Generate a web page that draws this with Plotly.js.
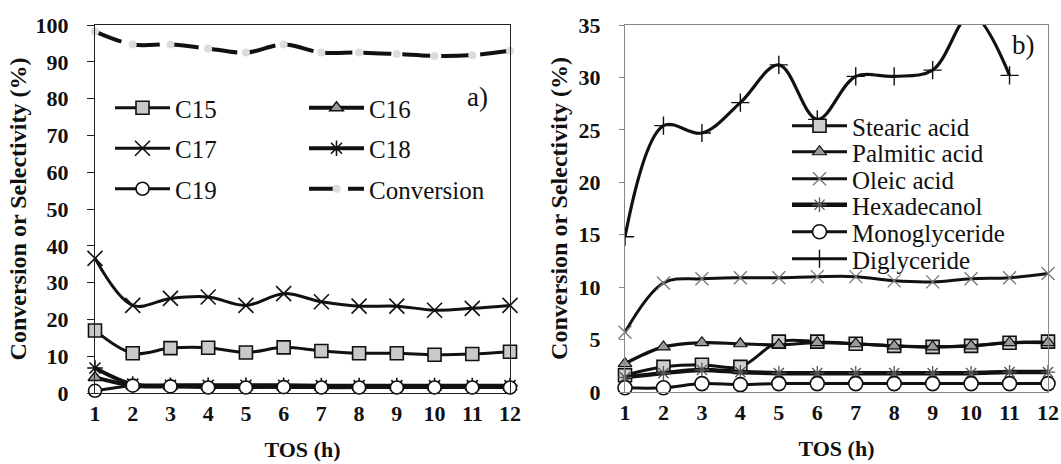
<!DOCTYPE html>
<html>
<head>
<meta charset="utf-8">
<script src="https://cdn.plot.ly/plotly-3.0.1.min.js"></script>
<style>html,body{margin:0;padding:0;background:#fff;overflow:hidden;}#chart{width:1061px;height:464px;}</style>
</head>
<body>
<div id="chart"></div>
<script>
// ---------- data ----------
const tos = [1, 2, 3, 4, 5, 6, 7, 8, 9, 10, 11, 12];
const tickLabelsX = ['1','2','3','4','5','6','7','8','9','10','11','12'];

// panel a)
const c15 = [17.0, 10.8, 12.2, 12.3, 11.0, 12.4, 11.4, 10.8, 10.8, 10.4, 10.6, 11.2];
const c16 = [4.2, 2.0, 1.8, 1.7, 1.7, 1.7, 1.6, 1.6, 1.6, 1.6, 1.6, 1.6];
const c17 = [36.6, 23.8, 25.7, 26.1, 23.8, 27.0, 24.8, 23.6, 23.6, 22.5, 23.0, 23.8];
const c18 = [6.8, 2.4, 2.1, 2.1, 2.1, 2.1, 2.0, 2.0, 2.0, 2.0, 2.0, 2.0];
const c19 = [0.6, 2.0, 1.8, 1.5, 1.5, 1.6, 1.5, 1.5, 1.5, 1.5, 1.5, 1.5];
const conversion = [98.2, 94.7, 94.7, 93.6, 92.5, 94.7, 92.5, 92.5, 92.1, 91.6, 91.8, 93.0];

// panel b)
const stearic = [1.6, 2.4, 2.6, 2.4, 4.8, 4.8, 4.6, 4.4, 4.3, 4.4, 4.7, 4.8];
const palmitic = [2.7, 4.3, 4.7, 4.6, 4.5, 4.7, 4.6, 4.4, 4.3, 4.4, 4.7, 4.7];
const oleic = [5.7, 10.4, 10.8, 10.9, 10.9, 11.0, 11.0, 10.6, 10.5, 10.8, 10.9, 11.3];
const hexadecanol = [1.4, 1.8, 2.1, 1.9, 1.8, 1.8, 1.8, 1.8, 1.8, 1.8, 1.9, 1.9];
const monoglyceride = [0.4, 0.4, 0.8, 0.7, 0.8, 0.8, 0.8, 0.8, 0.8, 0.8, 0.8, 0.8];
const diglyceride = [14.8, 25.4, 24.7, 27.6, 31.2, 26.0, 30.1, 30.1, 30.7, 36.0, 30.2, null];

// ---------- styling ----------
const SERIF = 'Liberation Serif, Times New Roman, serif';
const W = 1061, H = 464;
const legendFont = {family: SERIF, size: 25, color: '#111'};

function line(w, dash) { return {color: '#111', width: w, shape: 'spline', dash: dash || 'solid'}; }

const traces = [
  // panel a
  {x: tos, y: c17, name: 'C17', xaxis: 'x', yaxis: 'y', mode: 'lines+markers', line: line(3),
   marker: {symbol: 'x-thin-open', size: 15, color: '#111', line: {width: 1.6, color: '#111'}},
   legend: 'legend', legendgroup: 'a2', legendrank: 2, cliponaxis: false},
  {x: tos, y: c15, name: 'C15', xaxis: 'x', yaxis: 'y', mode: 'lines+markers', line: line(3),
   marker: {symbol: 'square', size: 13, color: '#c9c9c9', line: {width: 1.6, color: '#111'}},
   legend: 'legend', legendgroup: 'a1', legendrank: 1, cliponaxis: false},
  {x: tos, y: c18, name: 'C18', xaxis: 'x', yaxis: 'y', mode: 'lines+markers', line: line(4),
   marker: {symbol: 'asterisk-open', size: 13, color: '#111', line: {width: 1.6, color: '#111'}},
   legend: 'legend2', legendgroup: 'b2', legendrank: 2, cliponaxis: false},
  {x: tos, y: c16, name: 'C16', xaxis: 'x', yaxis: 'y', mode: 'lines+markers', line: line(4),
   marker: {symbol: 'triangle-up', size: 12, color: '#9a9a9a', line: {width: 1.4, color: '#111'}},
   legend: 'legend2', legendgroup: 'b1', legendrank: 1, cliponaxis: false},
  {x: tos, y: c19, name: 'C19', xaxis: 'x', yaxis: 'y', mode: 'lines+markers', line: line(3),
   marker: {symbol: 'circle', size: 13, color: '#ffffff', line: {width: 1.6, color: '#111'}},
   legend: 'legend', legendgroup: 'a3', legendrank: 3, cliponaxis: false},
  {x: tos, y: conversion, name: 'Conversion', xaxis: 'x', yaxis: 'y', mode: 'lines+markers',
   line: {color: '#111', width: 4, shape: 'spline', dash: '28px,11px'},
   marker: {symbol: 'circle', size: 8, color: '#dcdcdc'},
   legend: 'legend2', legendgroup: 'b3', legendrank: 3, cliponaxis: false},

  // panel b
  {x: tos, y: diglyceride, name: 'Diglyceride', xaxis: 'x2', yaxis: 'y2', mode: 'lines+markers', line: line(3.2),
   marker: {symbol: 'cross-thin-open', size: 13, color: '#111', line: {width: 1.4, color: '#111'}},
   legend: 'legend8', cliponaxis: true},
  {x: tos, y: oleic, name: 'Oleic acid', xaxis: 'x2', yaxis: 'y2', mode: 'lines+markers', line: line(3),
   marker: {symbol: 'x-thin-open', size: 13, color: '#777', line: {width: 1.3, color: '#777'}},
   legend: 'legend5', cliponaxis: false},
  {x: tos, y: stearic, name: 'Stearic acid', xaxis: 'x2', yaxis: 'y2', mode: 'lines+markers', line: line(3),
   marker: {symbol: 'square', size: 13, color: '#cfcfcf', line: {width: 1.6, color: '#111'}},
   legend: 'legend3', cliponaxis: false},
  {x: tos, y: palmitic, name: 'Palmitic acid', xaxis: 'x2', yaxis: 'y2', mode: 'lines+markers', line: line(3.2),
   marker: {symbol: 'triangle-up', size: 12, color: '#9a9a9a', line: {width: 1.2, color: '#111'}},
   legend: 'legend4', cliponaxis: false},
  {x: tos, y: hexadecanol, name: 'Hexadecanol', xaxis: 'x2', yaxis: 'y2', mode: 'lines+markers', line: line(4.5),
   marker: {symbol: 'asterisk-open', size: 12, color: '#555', line: {width: 1.3, color: '#555'}},
   legend: 'legend6', cliponaxis: false},
  {x: tos, y: monoglyceride, name: 'Monoglyceride', xaxis: 'x2', yaxis: 'y2', mode: 'lines+markers', line: line(3),
   marker: {symbol: 'circle', size: 14, color: '#ffffff', line: {width: 1.6, color: '#111'}},
   legend: 'legend7', cliponaxis: false}
];

function px2fx(px) { return px / W; }
function px2fy(py) { return 1 - py / H; }

function legendAt(xpx, ypx, anchor, extra) {
  return Object.assign({
    x: px2fx(xpx), y: px2fy(ypx), xanchor: 'left', yanchor: anchor || 'middle',
    bgcolor: 'rgba(0,0,0,0)', borderwidth: 0, font: legendFont, itemwidth: 55,
    itemclick: false, itemdoubleclick: false
  }, extra || {});
}

const tickFont = {family: SERIF, size: 22, color: '#111', weight: 'bold'};
const titleFont = {family: SERIF, size: 24, color: '#111', weight: 'bold'};
const xTitleFont = {family: SERIF, size: 22, color: '#111', weight: 'bold'};

const layout = {
  width: W, height: H,
  margin: {l: 0, r: 0, t: 0, b: 0},
  paper_bgcolor: '#ffffff', plot_bgcolor: 'rgba(0,0,0,0)',
  showlegend: true,
  xaxis: {
    domain: [95 / W, 510 / W], range: [1, 12], tickvals: tos, ticktext: tickLabelsX,
    showgrid: false, zeroline: false, ticks: '', tickfont: tickFont, ticklabelstandoff: 1,
    showline: true, mirror: true, linecolor: '#222', linewidth: 1,
    title: {text: 'TOS (h)', font: xTitleFont, standoff: 16}, anchor: 'y'
  },
  yaxis: {
    domain: [px2fy(393), px2fy(25)], range: [0, 100], dtick: 10, tick0: 0,
    showgrid: false, zeroline: false, ticks: 'outside', ticklen: 7, tickcolor: '#222',
    tickfont: tickFont, ticklabelstandoff: 14,
    showline: true, mirror: true, linecolor: '#222', linewidth: 1.2,
    title: {text: 'Conversion or Selectivity (%)', font: titleFont, standoff: 2}, anchor: 'x'
  },
  xaxis2: {
    domain: [625 / W, 1048 / W], range: [1, 12], tickvals: tos, ticktext: tickLabelsX,
    showgrid: false, zeroline: false, ticks: '', tickfont: tickFont, ticklabelstandoff: 1,
    showline: true, mirror: true, linecolor: '#888', linewidth: 1,
    title: {text: 'TOS (h)', font: xTitleFont, standoff: 16}, anchor: 'y2'
  },
  yaxis2: {
    domain: [px2fy(392), px2fy(25)], range: [0, 35], dtick: 5, tick0: 0,
    showgrid: false, zeroline: false, ticks: 'outside', ticklen: 5, tickcolor: '#888',
    tickfont: tickFont, ticklabelstandoff: 14,
    showline: true, mirror: true, linecolor: '#888', linewidth: 1,
    title: {text: 'Conversion or Selectivity (%)', font: titleFont, standoff: 4}, anchor: 'x2'
  },
  legend: legendAt(110, 85, 'top', {traceorder: 'grouped', tracegroupgap: 5}),
  legend2: legendAt(304, 85, 'top', {traceorder: 'grouped', tracegroupgap: 5}),
  legend3: legendAt(787, 126),
  legend4: legendAt(787, 152),
  legend5: legendAt(787, 179),
  legend6: legendAt(787, 205),
  legend7: legendAt(787, 232),
  legend8: legendAt(787, 259),
  annotations: [
    {text: 'a)', xref: 'paper', yref: 'paper', x: px2fx(477), y: px2fy(97), xanchor: 'center', yanchor: 'middle',
     showarrow: false, font: {family: SERIF, size: 27, color: '#111'}},
    {text: 'b)', xref: 'paper', yref: 'paper', x: px2fx(1023), y: px2fy(45), xanchor: 'center', yanchor: 'middle',
     showarrow: false, font: {family: SERIF, size: 27, color: '#111'}}
  ]
};

Plotly.newPlot('chart', traces, layout, {staticPlot: true, displayModeBar: false});
</script>
</body>
</html>
